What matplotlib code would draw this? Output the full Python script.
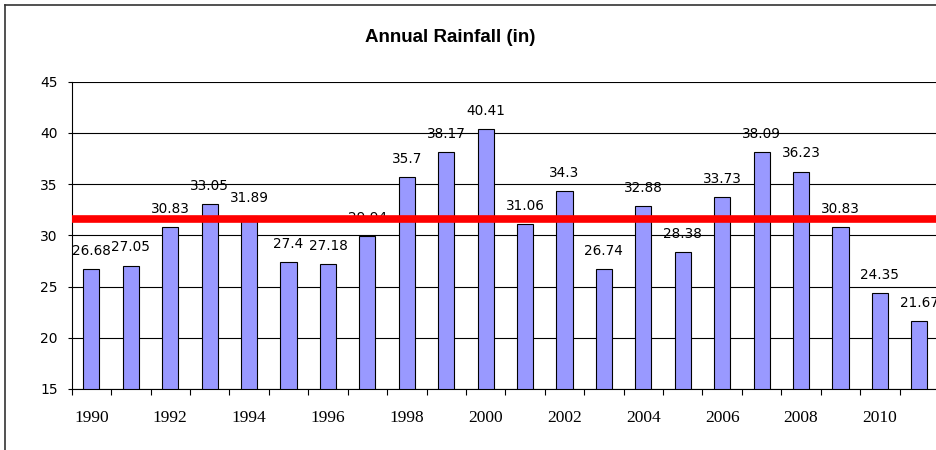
import matplotlib.pyplot as plt
import numpy as np
from matplotlib.lines import Line2D

# annual rainfall in inches, 1990-2011
years = list(range(1990, 2012))
rainfall = [26.68, 27.05, 30.83, 33.05, 31.89, 27.4, 27.18, 29.94, 35.7, 38.17, 40.41,
            31.06, 34.3, 26.74, 32.88, 28.38, 33.73, 38.09, 36.23, 30.83, 24.35, 21.67]
avg_line = 31.62

fig = plt.figure(figsize=(9.37, 4.5), dpi=100)
ax = fig.add_axes([71.7 / 937, 61 / 450, (939 - 71.7) / 937, (389 - 81.7) / 450])

x = np.arange(len(years))
ax.bar(x, rainfall, width=0.41, color='#9999ff', edgecolor='black', linewidth=0.8, zorder=2)

for xi, v in zip(x, rainfall):
    ax.annotate(f"{v:g}", (xi, v), xytext=(0, 8), textcoords='offset points',
                ha='center', va='bottom', fontsize=9.8, family='DejaVu Sans', zorder=3)

ax.axhline(avg_line, color='red', linewidth=5.5, zorder=5)

ax.set_ylim(15, 45)
ax.set_xlim(-0.5, len(years) - 0.5)
ax.set_yticks(range(15, 46, 5))
ax.yaxis.grid(True, color='black', linewidth=0.8, zorder=1)
ax.set_axisbelow(True)

ax.set_xticks(x[::2])
ax.set_xticklabels([str(y) for y in years[::2]], family='Liberation Serif', fontsize=12.5)
ax.set_xticks(np.arange(-0.5, len(years), 1), minor=True)
ax.tick_params(axis='x', which='major', length=0, pad=15)
ax.tick_params(axis='x', which='minor', length=4, direction='out', width=0.8)
ax.tick_params(axis='y', length=3, width=0.8, pad=7, labelsize=10)

for s in ['top', 'right']:
    ax.spines[s].set_visible(False)
for s in ['left', 'bottom']:
    ax.spines[s].set_linewidth(0.8)

fig.text(450 / 937, 1 - 37 / 450, "Annual Rainfall (in)", ha='center', va='center',
         fontsize=13.5, fontweight='bold', family='Liberation Sans')

# chart border (cropped on right and bottom)
fig.add_artist(Line2D([5 / 937, 5 / 937], [0, 1 - 5 / 450], transform=fig.transFigure,
                      color='#333333', linewidth=1.2))
fig.add_artist(Line2D([5 / 937, 1], [1 - 5 / 450, 1 - 5 / 450], transform=fig.transFigure,
                      color='#333333', linewidth=1.2))

fig.savefig('out.png', dpi=100)
